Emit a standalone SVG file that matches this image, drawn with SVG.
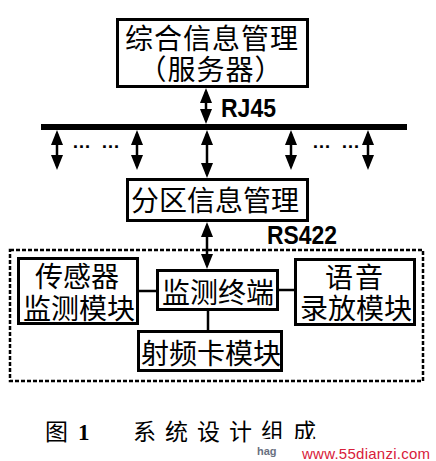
<svg xmlns="http://www.w3.org/2000/svg" width="436" height="461" viewBox="0 0 436 461">
<style>
.box{fill:#fff;stroke:#000;stroke-width:3}
.cn{font-family:"Liberation Sans","Noto Sans CJK SC",sans-serif;font-size:28px;fill:#000;text-anchor:middle}
.lbl{font-family:"Liberation Sans",Arial,sans-serif;font-weight:bold;font-size:26px;fill:#000}
.ln{stroke:#000;stroke-width:2.5;fill:none}
.arr{stroke:#000;stroke-width:2.5;fill:none;marker-start:url(#ah);marker-end:url(#ah)}
.dots{font-family:"Liberation Sans",Arial,sans-serif;font-weight:bold;font-size:19px;fill:#000}
.cap{font-family:"Liberation Serif","Noto Sans CJK SC",serif;font-size:23px;fill:#000}
</style>
<defs>
<marker id="ah" viewBox="0 0 15 12" refX="11" refY="6" markerWidth="15" markerHeight="12" orient="auto-start-reverse" markerUnits="userSpaceOnUse">
<path d="M0,0 L15,6 L0,12 z" fill="#000"/>
</marker>
</defs>
<rect width="436" height="461" fill="#fff"/>

<g id="connectors">
<line x1="41" y1="127" x2="407" y2="127" stroke="#000" stroke-width="6"/>
<line class="arr" x1="206" y1="92" x2="206" y2="120"/>
<line class="arr" x1="57" y1="134" x2="57" y2="166"/>
<line class="arr" x1="137" y1="134" x2="137" y2="166"/>
<line class="arr" x1="207" y1="134" x2="207" y2="174"/>
<line class="arr" x1="291" y1="134" x2="291" y2="166"/>
<line class="arr" x1="368" y1="134" x2="368" y2="166"/>
<line class="arr" x1="207" y1="226" x2="207" y2="265"/>
<line class="ln" x1="139" y1="291" x2="156" y2="291"/>
<line class="ln" x1="279" y1="290" x2="294" y2="290"/>
<line class="ln" x1="208" y1="311" x2="208" y2="330"/>
<text class="lbl" x="221" y="117" textLength="55" lengthAdjust="spacingAndGlyphs">RJ45</text>
<text class="lbl" x="267" y="244" textLength="70" lengthAdjust="spacingAndGlyphs">RS422</text>
<text class="dots" x="72" y="148" textLength="48">… …</text>
<text class="dots" x="312" y="148" textLength="48">… …</text>
</g>

<g id="subsystem">
<rect x="10" y="250" width="413" height="131" fill="none" stroke="#000" stroke-width="2.5" stroke-dasharray="4 2"/>
</g>

<g id="server">
<rect class="box" x="117.5" y="19.5" width="190" height="67"/>
<text class="cn" x="212" y="49" font-size="27" letter-spacing="1">综合信息管理</text>
<text class="cn" x="211" y="80" font-size="27" letter-spacing="1">（服务器）</text>
</g>

<g id="zone">
<rect class="box" x="127.5" y="179.5" width="180" height="41"/>
<text class="cn" x="215" y="211">分区信息管理</text>
</g>

<g id="sensor">
<rect class="box" x="18.5" y="258.5" width="119" height="65"/>
<text class="cn" x="77" y="287">传感器</text>
<text class="cn" x="79" y="319">监测模块</text>
</g>

<g id="terminal">
<rect class="box" x="157.5" y="270.5" width="120" height="39"/>
<text class="cn" x="218" y="303">监测终端</text>
</g>

<g id="voice">
<rect class="box" x="295.5" y="259.5" width="119" height="65"/>
<text class="cn" x="355" y="288" letter-spacing="2">语音</text>
<text class="cn" x="356" y="319">录放模块</text>
</g>

<g id="rfid">
<rect class="box" x="138.5" y="331.5" width="143" height="39"/>
<text class="cn" x="211" y="364">射频卡模块</text>
</g>

<g id="caption">
<text class="cap" x="45" y="440">图</text>
<text class="cap" x="78" y="440" font-weight="bold">1</text>
<text class="cap" x="133" y="440" letter-spacing="9">系统设计组成</text>
<rect x="256" y="439" width="180" height="22" fill="#fff"/>
<text x="257" y="455" font-family="Liberation Sans,Arial,sans-serif" font-size="11" font-weight="bold" fill="#6a7080">hag</text>
<text x="302" y="459" font-family="Liberation Sans,Arial,sans-serif" font-size="15" fill="#d8203a" textLength="128">www.55dianzi.com</text>
</g>
</svg>
